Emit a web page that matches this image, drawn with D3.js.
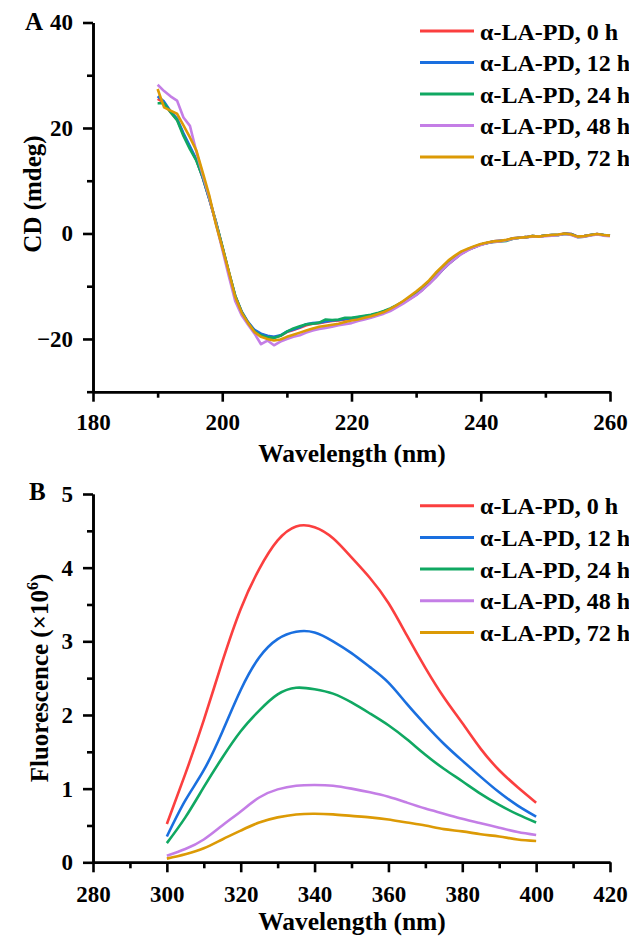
<!DOCTYPE html>
<html><head><meta charset="utf-8">
<script src="https://cdn.jsdelivr.net/npm/d3@7"></script>
<style>
html,body{margin:0;padding:0;background:#fff;}
text{font-family:"Liberation Serif","Times New Roman",serif;font-weight:bold;fill:#000;}
</style></head>
<body>
<svg id="chart" width="629" height="938"></svg>
<script>
// ---------- DATA ----------
const seriesNames = ["α-LA-PD, 0 h","α-LA-PD, 12 h","α-LA-PD, 24 h","α-LA-PD, 48 h","α-LA-PD, 72 h"];
const seriesColors = ["#fb3f3f","#1a6fdf","#10a862","#c47ee6","#dc9a05"];

// Panel A: CD spectra, 190-260 nm, 1 nm steps
const cdWavelength = d3.range(190, 261, 1);
const cd0h = [25.5,24.8,23.0,21.6,18.8,16.3,13.9,10.5,6.5,2.2,-2.5,-7.3,-11.9,-14.9,-16.9,-18.4,-19.1,-19.5,-19.7,-19.4,-18.7,-18.3,-17.9,-17.4,-17.1,-17.0,-16.8,-16.6,-16.5,-16.3,-16.2,-16.0,-15.8,-15.6,-15.3,-14.9,-14.4,-13.8,-13.1,-12.4,-11.6,-10.6,-9.5,-8.3,-7.0,-5.8,-4.8,-3.8,-3.1,-2.6,-2.1,-1.8,-1.5,-1.4,-1.3,-0.9,-0.8,-0.7,-0.5,-0.6,-0.4,-0.3,-0.3,0.0,-0.1,-0.6,-0.5,-0.3,-0.1,-0.3,-0.4];
const cd12h = [26.0,25.0,23.2,21.8,19.0,16.5,14.0,10.5,6.5,2.2,-2.5,-7.3,-11.8,-14.8,-16.8,-18.3,-19.0,-19.4,-19.6,-19.3,-18.6,-18.2,-17.8,-17.2,-17.0,-16.9,-16.7,-16.5,-16.4,-16.2,-16.1,-15.9,-15.7,-15.5,-15.2,-14.8,-14.3,-13.7,-13.0,-12.3,-11.6,-10.6,-9.5,-8.3,-7.0,-5.8,-4.8,-3.8,-3.1,-2.6,-2.1,-1.8,-1.5,-1.4,-1.3,-0.9,-0.8,-0.7,-0.5,-0.6,-0.4,-0.3,-0.3,0.0,-0.1,-0.6,-0.5,-0.3,-0.1,-0.3,-0.4];
const cd24h = [24.7,24.7,23.0,21.5,18.5,16.0,13.8,10.6,6.6,2.3,-2.4,-7.2,-11.8,-14.9,-17.0,-18.6,-19.3,-19.7,-19.8,-19.4,-18.6,-18.0,-17.6,-17.2,-17.1,-16.9,-16.3,-16.4,-16.3,-16.0,-16.0,-15.8,-15.6,-15.4,-15.1,-14.7,-14.2,-13.6,-12.9,-12.1,-11.3,-10.3,-9.2,-8.0,-6.7,-5.5,-4.6,-3.7,-3.0,-2.5,-2.1,-1.8,-1.6,-1.5,-1.4,-1.0,-0.8,-0.7,-0.5,-0.6,-0.4,-0.3,-0.3,-0.1,-0.2,-0.7,-0.6,-0.3,-0.2,-0.3,-0.4];
const cd48h = [28.2,27.0,26.0,25.2,22.0,20.4,15.5,11.0,6.8,2.0,-3.0,-8.0,-12.8,-15.5,-17.3,-19.0,-21.0,-20.3,-21.2,-20.5,-20.0,-19.6,-19.3,-18.8,-18.4,-18.1,-17.9,-17.7,-17.4,-17.2,-17.0,-16.6,-16.3,-16.0,-15.6,-15.2,-14.7,-14.0,-13.3,-12.5,-11.7,-10.7,-9.6,-8.3,-7.0,-5.8,-4.8,-3.9,-3.2,-2.6,-2.2,-1.8,-1.6,-1.5,-1.3,-1.0,-0.8,-0.7,-0.6,-0.6,-0.5,-0.4,-0.3,-0.1,-0.3,-0.7,-0.6,-0.4,-0.2,-0.4,-0.5];
const cd72h = [27.4,23.9,23.3,22.7,20.5,18.2,15.7,11.5,7.2,1.8,-2.6,-7.2,-12.0,-15.0,-17.0,-18.7,-19.6,-20.0,-20.3,-20.1,-19.6,-19.2,-18.8,-18.4,-18.0,-17.7,-17.5,-17.3,-17.1,-16.8,-16.5,-16.3,-16.0,-15.7,-15.3,-14.9,-14.3,-13.6,-12.8,-11.9,-11.0,-10.0,-8.9,-7.5,-6.3,-5.1,-4.2,-3.4,-2.9,-2.4,-2.0,-1.7,-1.5,-1.4,-1.2,-0.9,-0.8,-0.7,-0.5,-0.6,-0.4,-0.3,-0.2,0.0,-0.2,-0.6,-0.5,-0.3,-0.1,-0.3,-0.4];
const cdTicksX = [180,200,220,240,260];
const cdTicksY = [-20,0,20,40];

// Panel B: fluorescence spectra (x10^6), 300-400 nm, 5 nm steps
const flWavelength = d3.range(300, 401, 5);
const fl0h  = [0.52,1.20,1.93,2.72,3.44,3.98,4.37,4.56,4.55,4.40,4.14,3.86,3.52,3.08,2.64,2.24,1.89,1.54,1.25,1.02,0.81];
const fl12h = [0.35,0.84,1.25,1.77,2.34,2.78,3.03,3.13,3.12,3.00,2.84,2.65,2.44,2.15,1.87,1.61,1.38,1.16,0.95,0.77,0.62];
const fl24h = [0.26,0.61,1.02,1.42,1.78,2.06,2.28,2.37,2.35,2.29,2.17,2.02,1.86,1.67,1.46,1.27,1.10,0.93,0.78,0.65,0.54];
const fl48h = [0.09,0.18,0.31,0.50,0.69,0.88,0.99,1.04,1.05,1.04,1.00,0.95,0.89,0.81,0.73,0.66,0.59,0.53,0.47,0.41,0.37];
const fl72h = [0.05,0.11,0.19,0.31,0.43,0.54,0.61,0.65,0.66,0.65,0.63,0.61,0.58,0.54,0.50,0.45,0.42,0.38,0.35,0.31,0.29];
const flTicksX = [280,300,320,340,360,380,400,420];
const flTicksY = [0,1,2,3,4,5];

// ---------- DRAW ----------
const svg = d3.select("#chart");
const AXW = 2.6;

function styleTicks(a){
  a.attr("font-size", null).attr("font-family", null);
  a.select(".domain").attr("stroke-width", AXW);
  a.selectAll(".tick line").attr("stroke-width", AXW);
  a.selectAll(".tick text")
    .style("font-size", "23px")
    .style("font-family", "'Liberation Serif', serif")
    .style("font-weight", "bold");
}

function drawPanel(cfg){
  const g = svg.append("g");
  const x = d3.scaleLinear().domain(cfg.xDomain).range(cfg.xRange);
  const y = d3.scaleLinear().domain(cfg.yDomain).range(cfg.yRange);

  const line = d3.line().x(d => x(d[0])).y(d => y(d[1])).curve(cfg.curve);
  cfg.series.forEach((vals, i) => {
    g.append("path")
      .datum(cfg.xs.map((xv, j) => [xv, vals[j]]))
      .attr("fill", "none")
      .attr("stroke", seriesColors[i])
      .attr("stroke-width", 2.6)
      .attr("stroke-linejoin", "round")
      .attr("d", line);
  });

  const fmt = d3.format("d");
  const xMinor = d3.axisBottom(x).tickValues(cfg.xMinor).tickSize(6).tickSizeOuter(0).tickFormat("");
  const yMinor = d3.axisLeft(y).tickValues(cfg.yMinor).tickSize(6).tickSizeOuter(0).tickFormat("");
  const xAxis = d3.axisBottom(x).tickValues(cfg.xTicks).tickSize(10).tickSizeOuter(0).tickPadding(cfg.xPad).tickFormat(fmt);
  const yAxis = d3.axisLeft(y).tickValues(cfg.yTicks).tickSize(10).tickSizeOuter(0).tickPadding(10)
                  .tickFormat(d => d < 0 ? "\u2212" + fmt(-d) : fmt(d));

  const y0 = cfg.yRange[0];
  const x0 = cfg.xRange[0];
  [xMinor, xAxis].forEach(ax => {
    const a = g.append("g").attr("transform", `translate(0,${y0})`).call(ax);
    styleTicks(a);
  });
  [yMinor, yAxis].forEach(ax => {
    const a = g.append("g").attr("transform", `translate(${x0},0)`).call(ax);
    styleTicks(a);
  });

  g.append("text").attr("x", cfg.xTitlePos[0]).attr("y", cfg.xTitlePos[1])
    .attr("text-anchor", "middle").style("font-size", "25.5px").text(cfg.xTitle);
  const yt = g.append("text")
    .attr("transform", `translate(${cfg.yTitlePos[0]},${cfg.yTitlePos[1]}) rotate(-90)`)
    .attr("text-anchor", "middle").style("font-size", "25px");
  cfg.yTitle(yt);
  g.append("text").attr("x", cfg.letterPos[0]).attr("y", cfg.letterPos[1])
    .style("font-size", "25px").text(cfg.letter);

  const lg = g.append("g");
  seriesNames.forEach((name, i) => {
    const ly = cfg.legendY + i * cfg.legendStep;
    lg.append("line").attr("x1", 420).attr("x2", 474).attr("y1", ly).attr("y2", ly)
      .attr("stroke", seriesColors[i]).attr("stroke-width", 3);
    lg.append("text").attr("x", 480).attr("y", ly + 8.5).style("font-size", "24px").text(name);
  });
}

drawPanel({
  xs: cdWavelength,
  series: [cd0h, cd12h, cd24h, cd48h, cd72h],
  xDomain: [180, 260], xRange: [93, 610],
  yDomain: [-30, 40], yRange: [391.7, 22.5],
  xTicks: cdTicksX, xMinor: [190,210,230,250], xPad: 12,
  yTicks: cdTicksY, yMinor: [-30,-10,10,30],
  curve: d3.curveLinear,
  xTitle: "Wavelength (nm)", xTitlePos: [352, 462],
  yTitle: t => t.text("CD (mdeg)"), yTitlePos: [41, 194],
  letter: "A", letterPos: [25, 30],
  legendY: 31, legendStep: 31.5
});

drawPanel({
  xs: flWavelength,
  series: [fl0h, fl12h, fl24h, fl48h, fl72h],
  xDomain: [280, 420], xRange: [93, 610],
  yDomain: [0, 5], yRange: [862.3, 494],
  xTicks: flTicksX, xMinor: [290,310,330,350,370,390,410], xPad: 13,
  yTicks: flTicksY, yMinor: [0.5,1.5,2.5,3.5,4.5],
  curve: d3.curveNatural,
  xTitle: "Wavelength (nm)", xTitlePos: [352, 930],
  yTitle: t => {
    t.append("tspan").text("Fluorescence (×10");
    t.append("tspan").style("font-size", "16px").attr("dy", -10).text("6");
    t.append("tspan").attr("dy", 10).text(")");
  },
  yTitlePos: [48, 678],
  letter: "B", letterPos: [29, 500],
  legendY: 505.7, legendStep: 31.7
});
</script>
</body></html>
